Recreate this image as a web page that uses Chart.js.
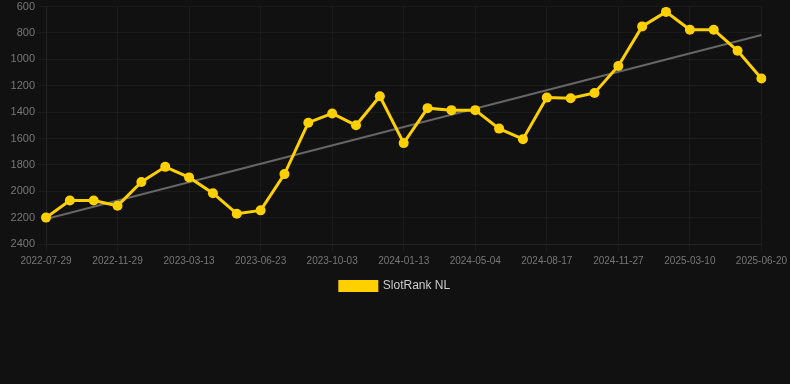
<!DOCTYPE html>
<html>
<head>
<meta charset="utf-8">
<script src="https://cdn.jsdelivr.net/npm/chart.js@4/dist/chart.umd.min.js"></script>
<style>
  html, body { margin: 0; padding: 0; background: #111111; overflow: hidden; }
  #wrap { width: 790px; height: 305px; position: relative; margin-top: -3px; }
</style>
</head>
<body>
<div id="wrap"><canvas id="rankChart"></canvas></div>
<script>
// Dates on the x axis (only every third one is shown by autoskip)
const dates = [
  '2022-07-29', '2022-09-09', '2022-10-20', '2022-11-29', '2022-12-30', '2023-02-09',
  '2023-03-13', '2023-04-17', '2023-05-20', '2023-06-23', '2023-07-27', '2023-08-30',
  '2023-10-03', '2023-11-06', '2023-12-10', '2024-01-13', '2024-02-18', '2024-03-27',
  '2024-05-04', '2024-06-08', '2024-07-13', '2024-08-17', '2024-09-20', '2024-10-24',
  '2024-11-27', '2024-12-31', '2025-02-04', '2025-03-10', '2025-04-13', '2025-05-17',
  '2025-06-20'
];

// Rank values
const slotRank = [
  2200, 2070, 2070, 2110, 1930, 1815, 1895, 2015, 2170, 2145,
  1870, 1480, 1410, 1500, 1280, 1635, 1370, 1385, 1385, 1525,
  1605, 1290, 1295, 1255, 1050, 750, 640, 775, 775, 935,
  1145
];

// Trend line end values (start, end)
const trendEnds = [2210, 815];

const yTicks = { min: 600, max: 2400, step: 200 };

const gridColor = 'rgba(255,255,255,0.045)';
const tickColor = '#777777';
const fontFamily = 'Arial, "Liberation Sans", sans-serif';

new Chart(document.getElementById('rankChart'), {
  type: 'line',
  data: {
    labels: dates,
    datasets: [
      {
        label: 'SlotRank NL',
        data: slotRank,
        borderColor: '#FFD000',
        backgroundColor: '#FFD000',
        borderWidth: 3,
        pointRadius: 5,
        pointBorderWidth: 0,
        pointHoverRadius: 5,
        tension: 0,
        order: 1
      },
      {
        label: 'trend',
        data: [
          { x: dates[0], y: trendEnds[0] },
          { x: dates[dates.length - 1], y: trendEnds[1] }
        ],
        borderColor: '#666666',
        borderWidth: 2,
        pointRadius: 0,
        tension: 0,
        order: 2
      }
    ]
  },
  options: {
    responsive: true,
    maintainAspectRatio: false,
    animation: false,
    scales: {
      x: {
        grid: { color: gridColor },
        border: { color: gridColor },
        ticks: {
          color: tickColor,
          font: { size: 10, family: fontFamily },
          maxRotation: 0,
          autoSkip: true
        }
      },
      y: {
        reverse: true,
        min: yTicks.min,
        max: yTicks.max,
        afterFit: scale => { scale.width = 46; },
        grid: { color: gridColor },
        border: { color: gridColor },
        ticks: {
          stepSize: yTicks.step,
          color: tickColor,
          font: { size: 11, family: fontFamily },
          callback: v => String(v)
        }
      }
    },
    plugins: {
      legend: {
        position: 'bottom',
        labels: {
          color: '#cccccc',
          boxWidth: 37,
          boxHeight: 9,
          padding: 10,
          font: { size: 12, family: fontFamily },
          filter: item => item.text !== 'trend'
        }
      },
      tooltip: { enabled: false }
    }
  }
});
</script>
</body>
</html>
